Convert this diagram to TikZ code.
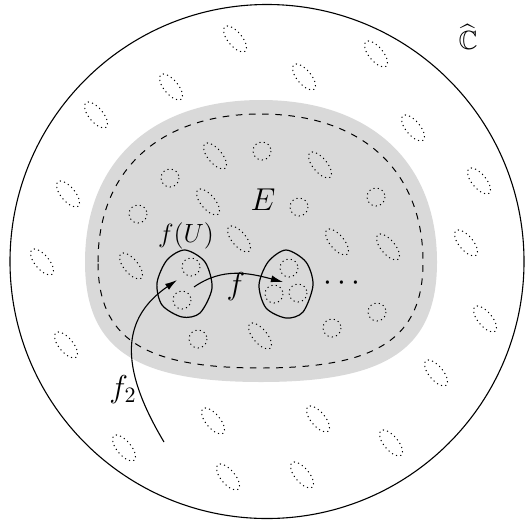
\documentclass[tikz,border=0pt]{standalone}
\usepackage{amsmath}
\usepackage{amssymb}
\usetikzlibrary{arrows.meta}

\tikzset{
  hole/.style={dash pattern=on 0.5pt off 1.5pt, line width=0.45pt},
  region/.style={fill=black!15, draw=none},
  bound/.style={dashed, line width=0.45pt},
  blob/.style={line width=0.55pt},
  map/.style={-{Latex[length=5.5pt,width=3.2pt]}, line width=0.5pt},
}

\begin{document}
\begin{tikzpicture}[x=0.016cm, y=-0.016cm]
  \useasboundingbox (0,0) rectangle (532,531);
  \draw[line width=0.5pt] (267,261.5) circle[radius=257];
  \fill[region] (85,262) .. controls (85,161.6) and (152,100) .. (261,100)
    .. controls (370,100) and (437,161.6) .. (437,262)
    .. controls (437,348.4) and (387.7,382) .. (261,382)
    .. controls (134.3,382) and (85,348.4) .. cycle;
  \draw[bound] (98,262) .. controls (98,170.2) and (159.75,114) .. (260.5,114)
    .. controls (361.25,114) and (423,170.2) .. (423,262)
    .. controls (423,338.3) and (377.5,368) .. (260.5,368)
    .. controls (143.5,368) and (98,338.3) .. cycle;
  \foreach \x/\y in {235/39, 376/54, 304/77, 171/87, 96/115, 413/128, 479/181,
      68/194, 466/243, 42/262, 485/319, 66/345, 436/373, 213/421, 318/419,
      391/443, 124/448, 228/477, 302/475, 215/156, 320/165, 208/202, 239/239,
      337/242, 388/247, 131/266, 260/336}
    \draw[hole, rotate around={-50:(\x,\y)}] (\x,\y) ellipse[x radius=16, y radius=7];
  \foreach \x/\y in {262/151, 170/178, 376/197, 299/207, 138/214, 198/339,
      332/328, 377/312, 191/267, 182/300, 289/268, 274/294, 298/293}
    \draw[hole] (\x,\y) circle[radius=9];
  \draw[blob] plot[smooth cycle] coordinates {(185,250) (205,262) (212,288) (200,313)
    (182,317) (162,305) (157,283) (167,260)};
  \draw[blob] plot[smooth cycle] coordinates {(286,250) (306,262) (313,285) (303,312)
    (286,318) (266,308) (259,285) (268,262)};
  \node (chat) at (468,37) {\large $\widehat{\mathbb{C}}$};
  \node (E) at (263,200) {\Large $E$};
  \node (fU) at (186,236) {\large $f(U)$};
  \node (flab) at (236,287) {\Large $f$};
  \node (dots) at (345,283) {\Large $\cdots$};
  \node (f2lab) at (123,390) {\Large $f_2$};
  \coordinate (fs) at (194,287);
  \coordinate (ft) at (283,282);
  \coordinate (gs) at (164,442);
  \coordinate (gt) at (177,280);
  \draw[map] (fs) to[out=35,in=165] (ft);
  \draw[map] (gs) .. controls (118,365) and (122,318) .. (gt);
\end{tikzpicture}
\end{document}
